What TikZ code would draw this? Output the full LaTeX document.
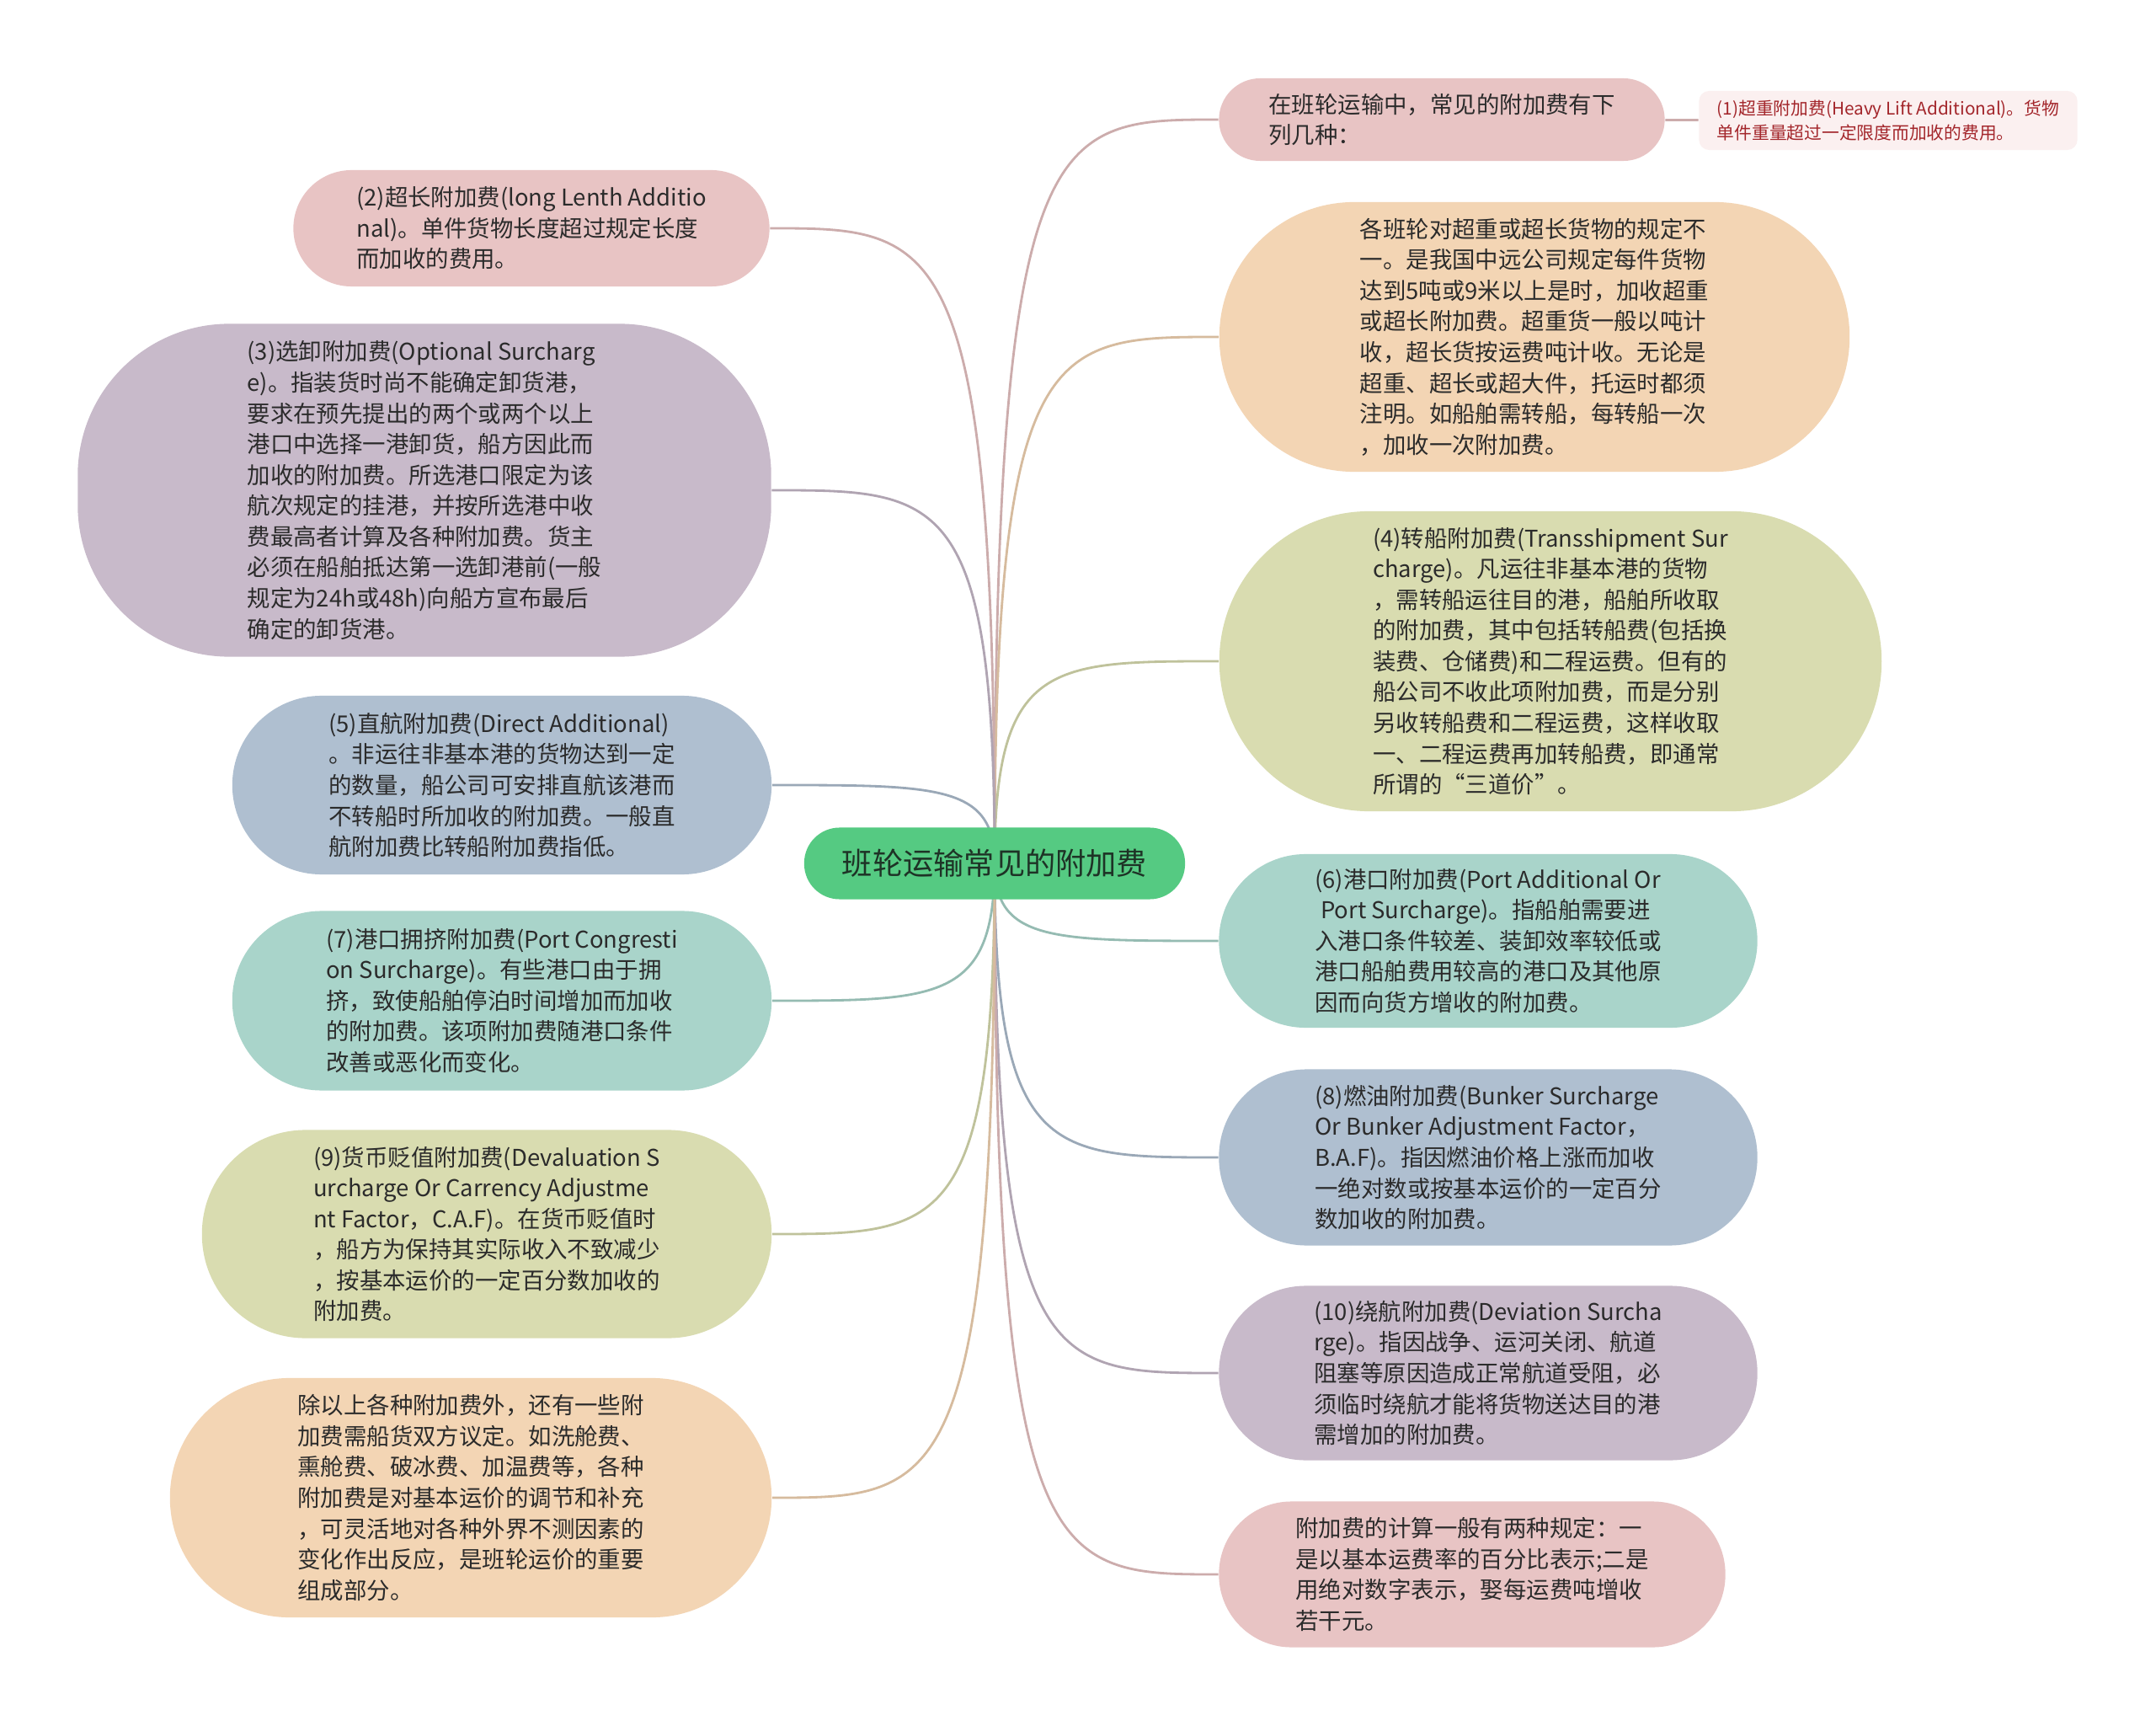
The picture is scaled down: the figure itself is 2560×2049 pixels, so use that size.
\documentclass[tikz,border=0pt]{standalone}
\usepackage{fontspec}
\setmainfont{Noto Sans CJK SC}
\usepackage{xcolor}
\usepackage{tikz}
\usetikzlibrary{calc,backgrounds}
\definecolor{cInk}{HTML}{2B2B2B}
\definecolor{cDeep}{HTML}{1E3326}
\definecolor{cPink}{HTML}{E8C4C4}
\definecolor{cPeach}{HTML}{F3D5B4}
\definecolor{cOlive}{HTML}{D9DCB0}
\definecolor{cTeal}{HTML}{A9D4CA}
\definecolor{cSlate}{HTML}{AFBFD0}
\definecolor{cMauve}{HTML}{C8BACA}
\definecolor{cMint}{HTML}{55CA82}
\definecolor{cRose}{HTML}{FBF0F0}
\definecolor{cRed}{HTML}{A3262B}
\tikzset{
  topic/.style={fill=cMint,rounded corners=0.42cm,minimum width=4.52cm,minimum height=0.85cm,inner sep=0pt,
    font=\fontsize{10.3pt}{12pt}\selectfont,text=cDeep},
  sub/.style={fill=#1,align=left,inner sep=0pt,font=\fontsize{7.8pt}{10.4pt}\selectfont,text=cInk},
  note/.style={fill=cRose,rounded corners=0.12cm,align=left,inner sep=0pt,font=\fontsize{5.9pt}{8.3pt}\selectfont,text=cRed},
  lnk/.style={draw=#1!88!black,line width=0.8pt},
}

\begin{document}
\begin{tikzpicture}[x=0.01cm,y=-0.01cm]
  \useasboundingbox (0,0) rectangle (2560,2049);
  \node[topic] (c) at (1181,1025) {班轮运输常见的附加费};
  % right side
  \node[sub=cPink,minimum width=5.29cm,minimum height=0.98cm,rounded corners=0.49cm] (r0) at (1712,142)
    {在班轮运输中，常见的附加费有下\\列几种：};
  \node[note,minimum width=4.49cm,minimum height=0.70cm] (r0a) at (2242,143)
    {(1)超重附加费(Heavy Lift Additional)。货物\\单件重量超过一定限度而加收的费用。};
  \node[sub=cPeach,minimum width=7.48cm,minimum height=3.20cm,rounded corners=1.6cm] (r1) at (1822,400)
    {各班轮对超重或超长货物的规定不\\一。是我国中远公司规定每件货物\\达到5吨或9米以上是时，加收超重\\或超长附加费。超重货一般以吨计\\收，超长货按运费吨计收。无论是\\超重、超长或超大件，托运时都须\\注明。如船舶需转船，每转船一次\\，加收一次附加费。};
  \node[sub=cOlive,minimum width=7.86cm,minimum height=3.56cm,rounded corners=1.78cm] (r2) at (1841,785)
    {(4)转船附加费(Transshipment Sur\\charge)。凡运往非基本港的货物\\，需转船运往目的港，船舶所收取\\的附加费，其中包括转船费(包括换\\装费、仓储费)和二程运费。但有的\\船公司不收此项附加费，而是分别\\另收转船费和二程运费，这样收取\\一、二程运费再加转船费，即通常\\所谓的“三道价”。};
  \node[sub=cTeal,minimum width=6.39cm,minimum height=2.06cm,rounded corners=1.03cm] (r3) at (1767,1117)
    {(6)港口附加费(Port Additional Or\\\hspace*{0.25em}Port Surcharge)。指船舶需要进\\入港口条件较差、装卸效率较低或\\港口船舶费用较高的港口及其他原\\因而向货方增收的附加费。};
  \node[sub=cSlate,minimum width=6.39cm,minimum height=2.09cm,rounded corners=1.04cm] (r4) at (1767,1374)
    {(8)燃油附加费(Bunker Surcharge\\Or Bunker Adjustment Factor，\\B.A.F)。指因燃油价格上涨而加收\\一绝对数或按基本运价的一定百分\\数加收的附加费。};
  \node[sub=cMauve,minimum width=6.39cm,minimum height=2.07cm,rounded corners=1.03cm] (r5) at (1767,1630)
    {(10)绕航附加费(Deviation Surcha\\rge)。指因战争、运河关闭、航道\\阻塞等原因造成正常航道受阻，必\\须临时绕航才能将货物送达目的港\\需增加的附加费。};
  \node[sub=cPink,minimum width=6.01cm,minimum height=1.73cm,rounded corners=0.86cm] (r6) at (1748,1869)
    {附加费的计算一般有两种规定：一\\是以基本运费率的百分比表示;二是\\用绝对数字表示，娶每运费吨增收\\若干元。};
  % left side
  \node[sub=cPink,minimum width=5.65cm,minimum height=1.38cm,rounded corners=0.69cm] (l0) at (631,271)
    {(2)超长附加费(long Lenth Additio\\nal)。单件货物长度超过规定长度\\而加收的费用。};
  \node[sub=cMauve,minimum width=8.23cm,minimum height=3.95cm,rounded corners=1.8cm] (l1) at (504,582)
    {(3)选卸附加费(Optional Surcharg\\e)。指装货时尚不能确定卸货港，\\要求在预先提出的两个或两个以上\\港口中选择一港卸货，船方因此而\\加收的附加费。所选港口限定为该\\航次规定的挂港，并按所选港中收\\费最高者计算及各种附加费。货主\\必须在船舶抵达第一选卸港前(一般\\规定为24h或48h)向船方宣布最后\\确定的卸货港。};
  \node[sub=cSlate,minimum width=6.40cm,minimum height=2.12cm,rounded corners=1.06cm] (l2) at (596,932)
    {(5)直航附加费(Direct Additional)\\。非运往非基本港的货物达到一定\\的数量，船公司可安排直航该港而\\不转船时所加收的附加费。一般直\\航附加费比转船附加费指低。};
  \node[sub=cTeal,minimum width=6.40cm,minimum height=2.13cm,rounded corners=1.06cm] (l3) at (596,1188)
    {(7)港口拥挤附加费(Port Congresti\\on Surcharge)。有些港口由于拥\\挤，致使船舶停泊时间增加而加收\\的附加费。该项附加费随港口条件\\改善或恶化而变化。};
  \node[sub=cOlive,minimum width=6.76cm,minimum height=2.47cm,rounded corners=1.23cm] (l4) at (578,1465)
    {(9)货币贬值附加费(Devaluation S\\urcharge Or Carrency Adjustme\\nt Factor，C.A.F)。在货币贬值时\\，船方为保持其实际收入不致减少\\，按基本运价的一定百分数加收的\\附加费。};
  \node[sub=cPeach,minimum width=7.14cm,minimum height=2.84cm,rounded corners=1.42cm] (l5) at (559,1778)
    {除以上各种附加费外，还有一些附\\加费需船货双方议定。如洗舱费、\\熏舱费、破冰费、加温费等，各种\\附加费是对基本运价的调节和补充\\，可灵活地对各种外界不测因素的\\变化作出反应，是班轮运价的重要\\组成部分。};
  \begin{scope}[on background layer]
    \fill[white] (0,0) rectangle (2560,2049);
    \foreach \n/\cl in {r0/cPink,r1/cPeach,r2/cOlive,r3/cTeal,r4/cSlate,r5/cMauve,r6/cPink}
      \draw[lnk=\cl] (c.center) .. controls (c.center |- \n.west) and ($(c.center |- \n.west)!0.25!(\n.west)$) .. (\n.west);
    \foreach \n/\cl in {l0/cPink,l1/cMauve,l2/cSlate,l3/cTeal,l4/cOlive,l5/cPeach}
      \draw[lnk=\cl] (c.center) .. controls (c.center |- \n.east) and ($(c.center |- \n.east)!0.25!(\n.east)$) .. (\n.east);
    \draw[lnk=cPink] (r0) -- (r0a);
  \end{scope}
\end{tikzpicture}
\end{document}
